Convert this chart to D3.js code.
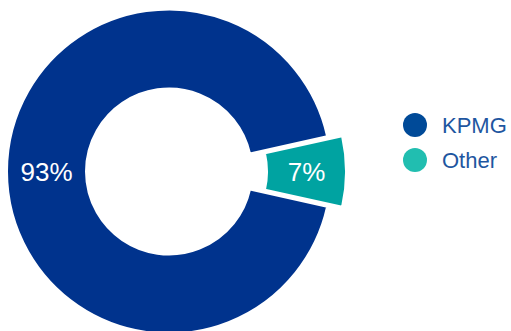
<!DOCTYPE html>
<html>
<head>
<meta charset="utf-8">
<script src="https://d3js.org/d3.v7.min.js"></script>
<style>
  body { margin: 0; background: #fff; }
  text { font-family: "Liberation Sans", Arial, sans-serif; }
</style>
</head>
<body>
<div id="chart"></div>
<script>
// data
var categories = ["KPMG", "Other"];
var values = [93, 7];
var labels = ["93%", "7%"];
var sliceColors = ["#00338D", "#00A3A1"];
var legendColors = ["#004A98", "#21BEB0"];

var width = 511, height = 331;
var cx = 169, cy = 171.5;
var outerR = 162, innerR = 83;
var explode = 15;

var svg = d3.select("#chart").append("svg")
    .attr("width", width)
    .attr("height", height);

var data = categories.map(function (c, i) { return { name: c, value: values[i], label: labels[i] }; });

// Other slice centred on the right (90deg)
var otherAngle = values[1] / d3.sum(values) * 2 * Math.PI;
var pie = d3.pie()
    .value(function (d) { return d.value; })
    .sort(null)
    .startAngle(Math.PI / 2 + otherAngle / 2)
    .endAngle(Math.PI / 2 + otherAngle / 2 + 2 * Math.PI);

var arc = d3.arc().innerRadius(innerR).outerRadius(outerR);

var g = svg.append("g").attr("transform", "translate(" + cx + "," + cy + ")");

var slices = g.selectAll("g.slice")
    .data(pie(data))
    .enter().append("g")
    .attr("class", "slice")
    .attr("transform", function (d, i) {
        if (i === 0) return null;
        var a = (d.startAngle + d.endAngle) / 2;
        return "translate(" + (Math.sin(a) * explode) + "," + (-Math.cos(a) * explode) + ")";
    });

slices.append("path")
    .attr("d", arc)
    .style("fill", function (d, i) { return sliceColors[i]; })
    .style("stroke", "#fff")
    .style("stroke-width", 2);

slices.append("text")
    .attr("transform", function (d) { return "translate(" + arc.centroid(d) + ")"; })
    .attr("text-anchor", "middle")
    .attr("dy", "0.36em")
    .style("fill", "#fff")
    .style("font-size", "26px")
    .text(function (d) { return d.data.label; });

// legend
var legend = svg.selectAll("g.legend")
    .data(data)
    .enter().append("g")
    .attr("class", "legend")
    .attr("transform", function (d, i) { return "translate(415," + (125 + i * 35) + ")"; });

legend.append("circle")
    .attr("r", 12)
    .style("fill", function (d, i) { return legendColors[i]; });

legend.append("text")
    .attr("x", 27)
    .attr("dy", "0.36em")
    .style("fill", "#1E56A0")
    .style("font-size", "22px")
    .text(function (d) { return d.name; });
</script>
</body>
</html>
